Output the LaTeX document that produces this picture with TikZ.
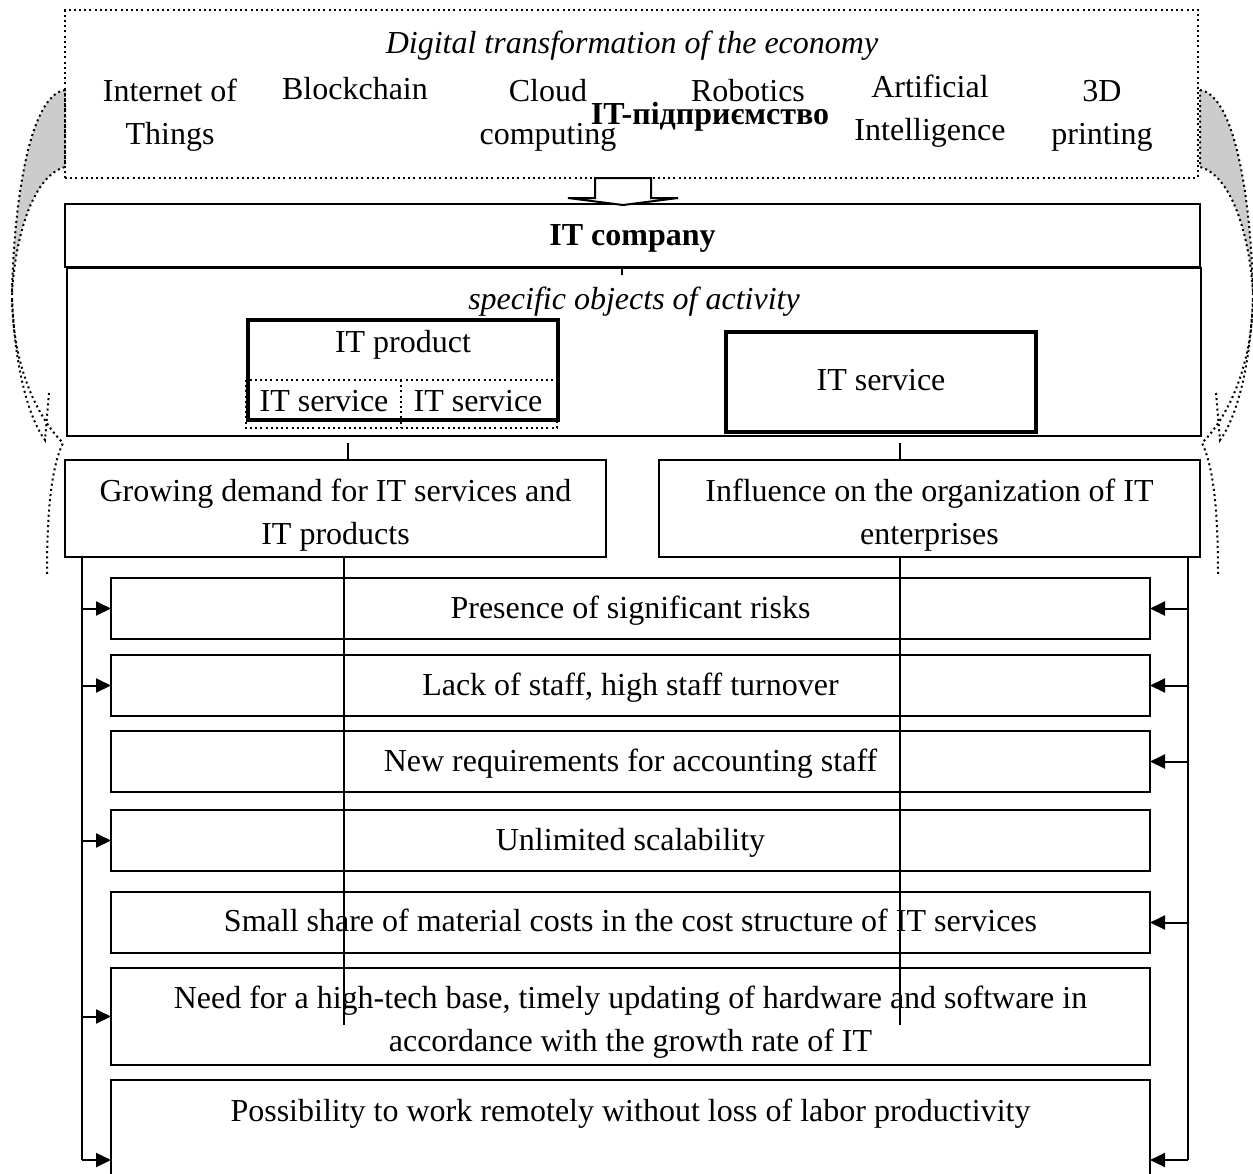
\documentclass[tikz,border=0pt]{standalone}
\usepackage{fontspec}
\setmainfont{Liberation Serif}
\usetikzlibrary{arrows.meta}
\newcommand\basefont{\fontsize{16pt}{21.5pt}\selectfont}
\newcommand\sidearrowshape{%
  \filldraw[dots, fill=gray!40] (65,90) .. controls (30,95) and (14,200) .. (12,293) .. controls (16,230) and (35,175) .. (65,167) -- cycle;
  \draw[dots] (12,293) .. controls (14,370) and (30,420) .. (45,440) -- (49,393);
  \draw[dots] (12,300) .. controls (14,380) and (45,425) .. (63,443) .. controls (50,470) and (47,520) .. (47,575);
}
\begin{document}
\begin{tikzpicture}[x=0.5pt,y=-0.5pt, font=\basefont,
  box/.style={draw, line width=1pt, inner sep=0pt, outer sep=0pt, align=center, text height=10pt, text depth=0pt},
  thickbox/.style={box, line width=2.2pt},
  row/.style={box, minimum width=519.5pt, minimum height=30.5pt},
  dots/.style={line width=1pt, dash pattern=on 1pt off 1.6pt},
  arr/.style={line width=1pt, -{Triangle[length=7.5pt,width=7pt]}},
  ln/.style={line width=0.9pt}]
\clip (0,0) rectangle (1253,1173);
\fill[white] (0,0) rectangle (1253,1173);

% curved side arrows
\sidearrowshape
\begin{scope}[xshift=632.5pt, xscale=-1]
  \sidearrowshape
\end{scope}

% top dotted box
\node[draw, dots, inner sep=0pt, outer sep=0pt, minimum width=566.5pt, minimum height=84pt] (top) at (631.5,94) {};
\node[anchor=base] (dt) at (632,53) {\itshape Digital transformation of the economy};
\node[align=center] (iot) at (170,115.5) {Internet of\\Things};
\node (bc) at (355,89) {Blockchain};
\node[align=center] (cc) at (548,115.5) {Cloud\\computing};
\node (rb) at (748,91) {Robotics};
\node[align=center] (ai) at (930,111.5) {Artificial\\Intelligence};
\node[align=center] (p3) at (1102,116) {3D\\printing};
\node[anchor=base, font=\basefont\bfseries] (itp) at (710,124) {IT-підприємство};

% IT company
\node[box, line width=1.3pt, minimum width=567.5pt, minimum height=31.5pt, font=\basefont\bfseries] (itco) at (632.5,235.5) {IT company};
\draw[line width=1pt, fill=white] (595,178) -- (595,198) -- (568,198) -- (623,205) -- (678,198) -- (651,198) -- (651,178) -- cycle;

% specific objects
\node[box, minimum width=567pt, minimum height=84pt] (spec) at (634,352) {};
\node[anchor=base] (spect) at (634,309) {\itshape specific objects of activity};
\node[thickbox, minimum width=155pt, minimum height=50pt] (prod) at (403,370) {};
\node[anchor=base] (prodt) at (403,352) {IT product};
\draw[dots, line width=0.8pt] (246,380) rectangle (557,428);
\draw[dots, line width=0.8pt] (401,380) -- (401,428);
\node[anchor=base] (s1) at (324,411) {IT service};
\node[anchor=base] (s2) at (478,411) {IT service};
\node[thickbox, minimum width=155pt, minimum height=50pt, text height=8pt] (serv) at (881,382) {IT service};

% second level
\node[box, minimum width=270.5pt, minimum height=48.5pt] (grow) at (335.5,508.5) {};
\node[align=center] (growt) at ([yshift=-3.25pt]grow.center) {Growing demand for IT services and\\IT products};
\node[box, minimum width=270.5pt, minimum height=48.5pt] (infl) at (929.5,508.5) {};
\node[align=center] (inflt) at ([yshift=-3.25pt]infl.center) {Influence on the organization of IT\\enterprises};

\coordinate (t0) at (622,275);
\draw[ln] (t0 |- itco.south) -- (t0);
\coordinate (t1) at (348,443);
\draw[ln] (t1) -- (t1 |- grow.north);
\coordinate (t2) at (900,443);
\draw[ln] (t2) -- (t2 |- infl.north);

% rows
\node[row] (r1) at (630.5,608.5) {Presence of significant risks};
\node[row] (r2) at (630.5,685.5) {Lack of staff, high staff turnover};
\node[row] (r3) at (630.5,761.5) {New requirements for accounting staff};
\node[row] (r4) at (630.5,840.5) {Unlimited scalability};
\node[row, text height=9pt] (r5) at (630.5,922.5) {Small share of material costs in the cost structure of IT services};
\node[row, minimum height=48.5pt] (r6) at (630.5,1016.5) {};
\node[align=center] (r6t) at ([yshift=-3pt]r6.center) {Need for a high-tech base, timely updating of hardware and software in\\accordance with the growth rate of IT};
\node[row, minimum height=80pt] (r7) at (630.5,1160) {};
\node[anchor=base] (r7t) at (630.5,1121) {Possibility to work remotely without loss of labor productivity};

% side connectors
\coordinate (ll) at (82,1160);
\coordinate (rr) at (1188,1160);
\draw[ln] (ll |- grow.south) -- (ll);
\draw[ln] (rr |- infl.south) -- (rr);
\draw[arr] (ll) -- (r7.west);
\draw[arr] (rr) -- (r7.east);
\foreach \r in {r1,r2,r4,r6} \draw[arr] (ll |- \r.west) -- (\r.west);
\foreach \r in {r1,r2,r3,r5} \draw[arr] (rr |- \r.east) -- (\r.east);

% middle lines
\coordinate (ml) at (344,1025);
\coordinate (mr) at (900,1025);
\draw[ln] (ml |- grow.south) -- (ml);
\draw[ln] (mr |- infl.south) -- (mr);
\end{tikzpicture}
\end{document}
